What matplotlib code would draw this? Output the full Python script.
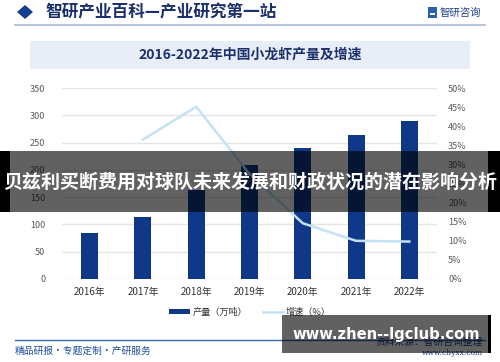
import matplotlib
matplotlib.use("Agg")
import matplotlib.pyplot as plt
from matplotlib.patches import Rectangle, Polygon
from matplotlib.lines import Line2D
from matplotlib.ticker import FuncFormatter

plt.rcParams['font.family'] = ['Noto Sans CJK SC', 'DejaVu Sans']

years = ["2016年", "2017年", "2018年", "2019年", "2020年", "2021年", "2022年"]
output = [85.2, 113.0, 163.9, 209.0, 239.4, 263.4, 289.1]
growth_years = ["2017年", "2018年", "2019年", "2020年", "2021年", "2022年"]
growth = [36.5, 45.1, 27.5, 14.6, 10.0, 9.8]
left_ticks = [0, 50, 100, 150, 200, 250, 300, 350]
right_ticks = [0, 5, 10, 15, 20, 25, 30, 35, 40, 45, 50]

W, H = 500, 362
fig = plt.figure(figsize=(W / 100, H / 100), dpi=100)
fig.patch.set_facecolor("white")

def fx(x):
    return x / W

def fy(y):
    return 1 - y / H

bar_color = "#0f3888"
line_color = "#c3e2f6"
tick_color = "#595959"

# header
fig.patches.append(Polygon([(fx(17), fy(12)), (fx(25), fy(5)), (fx(33), fy(12)), (fx(25), fy(19))],
                           closed=True, transform=fig.transFigure, facecolor="#123f8f", edgecolor="none"))
fig.text(fx(45), fy(12), "智研产业百科—产业研究第一站", fontsize=12, fontweight="bold",
         color="#1a2f6b", va="center", ha="left")
fig.patches.append(Rectangle((fx(428), fy(18)), fx(9), 11 / H, transform=fig.transFigure,
                             facecolor="#2b5fb0", edgecolor="none"))
fig.patches.append(Rectangle((fx(430), fy(15)), fx(5), 2 / H, transform=fig.transFigure,
                             facecolor="white", edgecolor="none"))
fig.text(fx(440), fy(13), "智研咨询", fontsize=7.5, color="#1f3f8a", va="center", ha="left")
fig.add_artist(Line2D([fx(15), fx(485)], [fy(25), fy(25)], color="#a9b8d6", lw=1.2))

# title box
fig.patches.append(Rectangle((fx(30), fy(69)), fx(440), 28 / H, transform=fig.transFigure,
                             facecolor="#e8eef8", edgecolor="none"))
fig.text(0.5, fy(55), "2016-2022年中国小龙虾产量及增速", fontsize=10, fontweight="bold",
         color="#1a2f6b", va="center", ha="center")

# main axes
ax = fig.add_axes([fx(62), fy(279), fx(437 - 62), (279 - 88) / H])
x = list(range(len(years)))
ax.bar(x, output, width=0.32, color=bar_color, zorder=3)
ax.set_xlim(-0.52, len(years) - 0.48)
ax.set_ylim(0, 350)
ax.set_yticks(left_ticks)
ax.set_xticks(x)
ax.set_xticklabels(years)
ax.grid(axis="y", color="#e5e5e5", lw=1, zorder=0)
for s in ax.spines.values():
    s.set_visible(False)
ax.tick_params(axis="y", length=0, pad=12, labelsize=6.5, labelcolor=tick_color)
ax.tick_params(axis="x", length=0, pad=6, labelsize=7, labelcolor="#333333")

ax2 = ax.twinx()
gx = [years.index(g) for g in growth_years]
ax2.plot(gx, growth, color=line_color, lw=1.8, zorder=4)
ax2.set_ylim(0, 50)
ax2.set_yticks(right_ticks)
ax2.yaxis.set_major_formatter(FuncFormatter(lambda v, p: f"{int(v)}%"))
for s in ax2.spines.values():
    s.set_visible(False)
ax2.tick_params(axis="y", length=0, pad=8, labelsize=6.5, labelcolor=tick_color)

# legend
handles = [Rectangle((0, 0), 1, 1, facecolor=bar_color), Line2D([0], [0], color=line_color, lw=1.8)]
fig.legend(handles, ["产量（万吨）", "增速（%）"], loc="center", bbox_to_anchor=(0.5, fy(312)),
           ncol=2, frameon=False, fontsize=6.6, handlelength=2.2, handleheight=0.5,
           columnspacing=1.7, handletextpad=0.3, labelcolor="#333333")

# footer
fig.add_artist(Line2D([fx(15), fx(485)], [fy(340), fy(340)], color="#3a66b0", lw=1))
fig.text(fx(15), fy(351), "精品研报・专题定制・产研服务", fontsize=7, color="#1f4e9e",
         va="center", ha="left")
fig.text(fx(483), fy(342), "资料来源：智研咨询整理", fontsize=7, color="#1f3f8a", va="center", ha="right")
fig.text(fx(483), fy(353), "www.chyxx.com", fontsize=5.5, color="#1f3f8a", va="center", ha="right",
         family="DejaVu Serif")

# overlay banner
fig.patches.append(Rectangle((0, fy(212)), 1, 61 / H, transform=fig.transFigure,
                             facecolor="black", alpha=0.62, edgecolor="none", zorder=10))
fig.patches.append(Rectangle((0, fy(212)), fx(10), 61 / H, transform=fig.transFigure,
                             facecolor="black", edgecolor="none", zorder=10))
fig.patches.append(Rectangle((fx(488), fy(212)), fx(12), 61 / H, transform=fig.transFigure,
                             facecolor="black", edgecolor="none", zorder=10))
fig.text(0.5, fy(182), "贝兹利买断费用对球队未来发展和财政状况的潜在影响分析", fontsize=13.7,
         fontweight="bold", color="white", va="center", ha="center", zorder=11)

# watermark box
fig.patches.append(Rectangle((fx(282), fy(353)), fx(206), 38 / H, transform=fig.transFigure,
                             facecolor="black", alpha=0.62, edgecolor="none", zorder=10))
fig.patches.append(Rectangle((fx(488), fy(353)), fx(3), 38 / H, transform=fig.transFigure,
                             facecolor="black", edgecolor="none", zorder=10))
fig.text(fx(386), fy(334), "www.zhen--lgclub.com", fontsize=10.6, fontweight="bold",
         color="white", va="center", ha="center", zorder=11, family="DejaVu Sans")

fig.savefig("out.png", dpi=100)
